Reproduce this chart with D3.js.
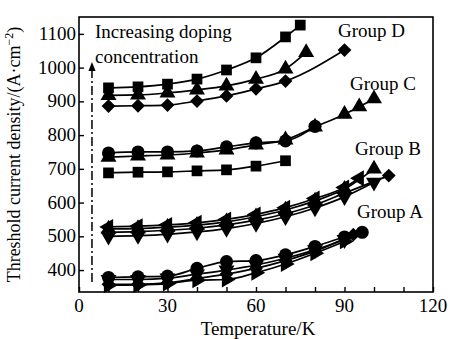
<!DOCTYPE html>
<html>
<head>
<meta charset="utf-8">
<script src="https://cdn.jsdelivr.net/npm/d3@7"></script>
<style>
  body { margin: 0; background: #fff; }
  text { font-family: "Liberation Serif", "DejaVu Serif", serif; fill: #000; }
</style>
</head>
<body>
<script>
// Threshold current density (A/cm^2) vs temperature (K)
const xTicks = [0, 30, 60, 90, 120];
const xMinor = [10, 20, 40, 50, 70, 80, 100, 110];
const yTicks = [400, 500, 600, 700, 800, 900, 1000, 1100];

// Group D
const dSquareT = [10, 20, 30, 40, 50, 60, 70, 75];
const dSquareJ = [940, 943, 951, 966, 993, 1029, 1091, 1126];
const dTriT = [10, 20, 30, 40, 50, 60, 70, 77];
const dTriJ = [918, 919, 925, 934, 946, 966, 996, 1045];
const dDiaT = [10, 20, 30, 40, 50, 60, 70, 90];
const dDiaJ = [886, 887, 889, 901, 916, 937, 960, 1052];

// Group C
const cCircT = [10, 20, 30, 40, 50, 60, 70, 80];
const cCircJ = [747, 750, 750, 753, 765, 777, 783, 826];
const cTriT = [10, 20, 30, 40, 50, 60, 70, 80, 90, 95, 100];
const cTriJ = [735, 738, 741, 747, 756, 771, 786, 824, 862, 884, 908];
const cSquareT = [10, 20, 30, 40, 50, 60, 70];
const cSquareJ = [688, 690, 691, 694, 697, 708, 724];

// Group B
const bLeftT = [10, 20, 30, 40, 50, 60, 70, 80, 90, 95];
const bLeftJ = [528, 530, 534, 540, 550, 565, 585, 612, 645, 672];
const bTriT = [10, 20, 30, 40, 50, 60, 70, 80, 90, 100];
const bTriJ = [522, 523, 527, 533, 543, 558, 578, 605, 640, 700];
const bDiaT = [10, 20, 30, 40, 50, 60, 70, 80, 90, 105];
const bDiaJ = [512, 514, 518, 524, 534, 548, 567, 593, 628, 680];
const bDownT = [10, 20, 30, 40, 50, 60, 70, 80, 90, 100];
const bDownJ = [500, 502, 506, 513, 523, 538, 558, 584, 617, 660];

// Group A
const aCircT = [10, 20, 30, 40, 50, 60, 70, 80, 90, 96];
const aCircJ = [378, 380, 382, 405, 425, 428, 445, 470, 498, 512];
const aDownT = [10, 20, 30, 40, 50, 60, 70, 80, 90];
const aDownJ = [372, 372, 376, 388, 400, 415, 435, 460, 490];
const aDiaT = [10, 20, 30, 40, 50, 60, 70, 80, 93];
const aDiaJ = [358, 358, 362, 375, 388, 405, 428, 456, 505];
const aRightT = [10, 20, 30, 40, 50, 60, 70, 80, 90];
const aRightJ = [355, 356, 360, 370, 372, 392, 418, 450, 485];

const groupLabels = ["Group D", "Group C", "Group B", "Group A"];
const groupLabelAt = [[338, 37], [350, 90], [355, 155], [357, 218]];

const series = [
  { t: dSquareT, j: dSquareJ, shape: "square" },
  { t: dTriT, j: dTriJ, shape: "up" },
  { t: dDiaT, j: dDiaJ, shape: "diamond" },
  { t: cTriT, j: cTriJ, shape: "up" },
  { t: cCircT, j: cCircJ, shape: "circle" },
  { t: cSquareT, j: cSquareJ, shape: "square" },
  { t: bLeftT, j: bLeftJ, shape: "left" },
  { t: bTriT, j: bTriJ, shape: "up" },
  { t: bDiaT, j: bDiaJ, shape: "diamond" },
  { t: bDownT, j: bDownJ, shape: "down" },
  { t: aCircT, j: aCircJ, shape: "circle" },
  { t: aDownT, j: aDownJ, shape: "down" },
  { t: aDiaT, j: aDiaJ, shape: "diamond" },
  { t: aRightT, j: aRightJ, shape: "right" }
];

const width = 450, height = 339;
const margin = { left: 79, right: 17, top: 17, bottom: 47 };

const svg = d3.select("body").append("svg")
  .attr("width", width)
  .attr("height", height)
  .attr("viewBox", [0, 0, width, height]);

const x = d3.scaleLinear().domain([0, 120]).range([margin.left, width - margin.right]);
const y = d3.scaleLinear().domain([335, 1150]).range([height - margin.bottom, margin.top]);

// frame
svg.append("rect")
  .attr("x", x(0)).attr("y", y(1150))
  .attr("width", x(120) - x(0)).attr("height", y(335) - y(1150))
  .attr("fill", "none").attr("stroke", "#000").attr("stroke-width", 1.6);

// x axis, ticks inside
const xAxis = svg.append("g").attr("transform", `translate(0,${y(335)})`);
xAxis.call(d3.axisBottom(x).tickValues(xTicks.concat(xMinor)).tickSize(-5).tickFormat(""))
  .call(g => g.select(".domain").remove())
  .call(g => g.selectAll("line").attr("stroke-width", 1.4));
xAxis.selectAll(".lab").data(xTicks).join("text")
  .attr("class", "lab")
  .attr("x", d => x(d)).attr("y", 20)
  .attr("text-anchor", "middle")
  .attr("font-size", 19)
  .text(d => d);

// y axis, ticks inside
const yAxis = svg.append("g").attr("transform", `translate(${x(0)},0)`);
yAxis.call(d3.axisLeft(y).tickValues(yTicks).tickSize(-5).tickFormat(""))
  .call(g => g.select(".domain").remove())
  .call(g => g.selectAll("line").attr("stroke-width", 1.4));
yAxis.selectAll(".lab").data(yTicks).join("text")
  .attr("class", "lab")
  .attr("x", -3).attr("y", d => y(d) + 6)
  .attr("text-anchor", "end")
  .attr("font-size", 19)
  .text(d => d);

svg.append("text")
  .attr("x", (x(0) + x(120)) / 2 + 2).attr("y", 335)
  .attr("text-anchor", "middle")
  .attr("font-size", 19)
  .text("Temperature/K");

const yTitle = svg.append("text")
  .attr("transform", `translate(20,${(y(335) + y(1150)) / 2}) rotate(-90)`)
  .attr("text-anchor", "middle")
  .attr("font-size", 18);
yTitle.append("tspan").text("Threshold current density/(A·cm");
yTitle.append("tspan").attr("dy", -7).attr("font-size", 12).text("−2");
yTitle.append("tspan").attr("dy", 7).text(")");

// dash-dot arrow for increasing doping
svg.append("defs").append("marker")
  .attr("id", "arrow")
  .attr("viewBox", "0 0 10 10")
  .attr("refX", 5).attr("refY", 5)
  .attr("markerWidth", 6).attr("markerHeight", 7)
  .attr("orient", "auto")
  .append("path").attr("d", "M0,1 L10,5 L0,9 Z").attr("fill", "#000");

svg.append("line")
  .attr("x1", x(4.4)).attr("x2", x(4.4))
  .attr("y1", y(365)).attr("y2", y(1003))
  .attr("stroke", "#000").attr("stroke-width", 1.5)
  .attr("stroke-dasharray", "9,3,2,3")
  .attr("marker-end", "url(#arrow)");

svg.append("text").attr("x", 95).attr("y", 38).attr("font-size", 19).text("Increasing doping");
svg.append("text").attr("x", 95).attr("y", 63).attr("font-size", 19).text("concentration");

svg.selectAll(".glab").data(groupLabels).join("text")
  .attr("class", "glab")
  .attr("x", (d, i) => groupLabelAt[i][0])
  .attr("y", (d, i) => groupLabelAt[i][1])
  .attr("font-size", 19)
  .text(d => d);

// curves and markers
const line = d3.line()
  .x(d => x(d[0]))
  .y(d => y(d[1]))
  .curve(d3.curveMonotoneX);

const shapes = {
  square: { type: d3.symbolSquare, size: 115, rot: 0 },
  circle: { type: d3.symbolCircle, size: 135, rot: 0 },
  diamond: { type: d3.symbolSquare, size: 95, rot: 45 },
  up: { type: d3.symbolTriangle, size: 110, rot: 0 },
  down: { type: d3.symbolTriangle, size: 110, rot: 180 },
  left: { type: d3.symbolTriangle, size: 110, rot: -90 },
  right: { type: d3.symbolTriangle, size: 110, rot: 90 }
};

const plot = svg.append("g");
series.forEach(s => {
  const pts = s.t.map((t, i) => [t, s.j[i]]);
  plot.append("path")
    .attr("d", line(pts))
    .attr("fill", "none")
    .attr("stroke", "#000")
    .attr("stroke-width", 1.7);
  const sh = shapes[s.shape];
  plot.append("g").selectAll("path").data(pts).join("path")
    .attr("transform", d => `translate(${x(d[0])},${y(d[1])}) rotate(${sh.rot})`)
    .attr("d", d3.symbol(sh.type, sh.size))
    .attr("fill", "#000");
});
</script>
</body>
</html>
